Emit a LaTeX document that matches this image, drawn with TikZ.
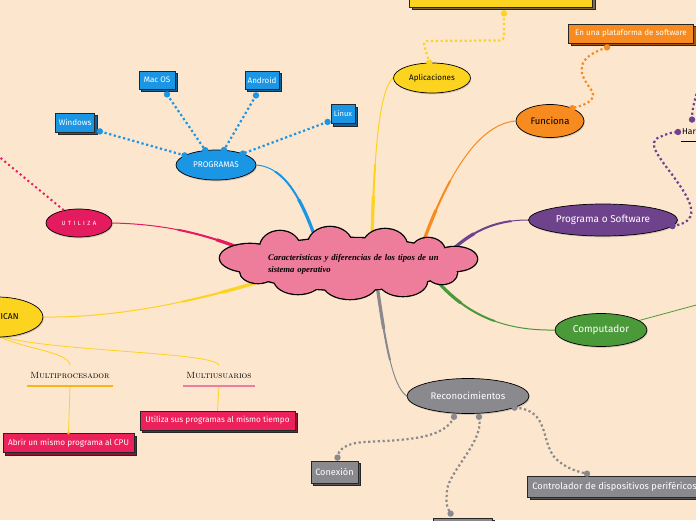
\documentclass[tikz,border=0pt]{standalone}
\usepackage{fontspec}
\newfontfamily\hand{Fira Sans}
\newfontfamily\tms{Liberation Serif}
\usetikzlibrary{shapes.symbols,shapes.geometric,shadows,calc}
\pgfdeclarelayer{back}
\pgfsetlayers{back,main}
\definecolor{bgc}{RGB}{253,230,206}
\definecolor{blueN}{RGB}{27,150,229}
\definecolor{blueD}{RGB}{22,98,150}
\definecolor{yelN}{RGB}{252,211,31}
\definecolor{yelD}{RGB}{125,110,70}
\definecolor{oraN}{RGB}{247,139,31}
\definecolor{oraD}{RGB}{165,88,22}
\definecolor{purN}{RGB}{111,66,140}
\definecolor{grnN}{RGB}{74,154,58}
\definecolor{gryN}{RGB}{138,138,142}
\definecolor{gryD}{RGB}{88,88,92}
\definecolor{crimN}{RGB}{229,27,95}
\definecolor{crimB}{RGB}{236,32,90}
\definecolor{crimD}{RGB}{145,20,55}
\definecolor{pinkC}{RGB}{238,124,155}
\definecolor{mpC}{RGB}{248,180,25}
\definecolor{muC}{RGB}{240,125,160}
\newcommand\mmfs[1]{\fontsize{#1}{#1}\selectfont}
\newcommand\mmtaper[2]{%
  \draw[#1, line width=1pt] #2;
  \begin{scope}\clip (348,263) ellipse (180 and 100); \draw[#1, line width=2pt] #2; \end{scope}
  \begin{scope}\clip (348,263) ellipse (140 and 68); \draw[#1, line width=3.2pt] #2; \end{scope}}
\newcommand\mmdot[2]{\fill[#1] #2 circle (3.2);}
\newcommand\mmpuffs{348/264/105/26, 250/258/30/14, 280/248/20/17, 330/245/22/18, 385/246/22/17,
  428/252/17/14, 455/259/22/12, 442/273/15/11, 403/281/24/15, 350/283/27/16, 298/279/24/15, 258/271/18/12}
\begin{document}
\begin{tikzpicture}[x=1pt,y=-1pt,
  ell/.style={ellipse, draw=black, line width=0.7pt, inner sep=0pt,
    drop shadow={shadow xshift=0.8pt, shadow yshift=-1.3pt, opacity=0.35}},
  sbox/.style 2 args={rectangle, draw=black!85, line width=0.8pt, fill=#1, inner sep=0pt, text=white,
    general shadow={fill=#2, draw=black!85, line width=0.8pt, shadow xshift=2.5pt, shadow yshift=-2.5pt}},
  dotc/.style={line width=2.2pt, dash pattern=on 2.2pt off 2.6pt},
  thinc/.style={line width=0.8pt}]
\useasboundingbox (0,0) rectangle (696,520);

% ---------- central cloud (union of puffs) ----------
\foreach \px/\py/\rx/\ry in \mmpuffs {\draw[black, line width=2.6pt] (\px,\py) ellipse (\rx pt and \ry pt);}
\foreach \px/\py/\rx/\ry in \mmpuffs {\fill[pinkC] (\px,\py) ellipse (\rx pt and \ry pt);}
\node[ellipse, inner sep=0pt, text width=160pt, align=left,
  font=\tms\bfseries\itshape\fontsize{8.7}{12}\selectfont]
  (cloud) at (348,264) {\mbox{Caracteristicas y diferencias de los tipos de un}\\sistema operativo};

% ---------- nodes ----------
\node[ell, fill=blueN, minimum width=80pt, minimum height=30pt, text=white, font=\hand\mmfs{8.2}] (prog) at (216,165) {PROGRAMAS};
\node[sbox={blueN}{blueD}, minimum width=39pt, minimum height=19pt, font=\hand\mmfs{8}] (win) at (75,122.5) {Windows};
\node[sbox={blueN}{blueD}, minimum width=36pt, minimum height=18pt, font=\hand\mmfs{8}] (mac) at (157,80) {Mac OS};
\node[sbox={blueN}{blueD}, minimum width=34pt, minimum height=18pt, font=\hand\mmfs{8}] (andr) at (262,80) {Android};
\node[sbox={blueN}{blueD}, minimum width=24pt, minimum height=19pt, font=\hand\mmfs{7.5}] (lin) at (343,114) {Linux};

\node[ell, fill=yelN, minimum width=77pt, minimum height=30pt, font=\hand\mmfs{8}] (apl) at (432,78) {Aplicaciones};
\node[sbox={yelN}{yelD}, minimum width=183pt, minimum height=30pt] (ybox) at (501,-8) {};

\node[sbox={oraN}{oraD}, minimum width=125pt, minimum height=19pt, font=\hand\mmfs{8}] (orbox) at (631,33.5) {En una plataforma de software};
\node[ell, fill=oraN, minimum width=68pt, minimum height=33pt, font=\hand\mmfs{9.5}] (fun) at (550,121) {Funciona};

\node[ell, fill=purN, minimum width=149pt, minimum height=32pt, text=white, font=\hand\mmfs{10}] (pos) at (603,220) {Programa o Software};
\node[anchor=west, inner sep=1pt, font=\hand\mmfs{8.5}] (hw) at (681,131) {Hardware};

\node[ell, fill=grnN, minimum width=92pt, minimum height=33pt, text=white, font=\hand\mmfs{10}] (comp) at (601,330) {Computador};

\node[ell, fill=gryN, minimum width=122pt, minimum height=35pt, text=white, font=\hand\mmfs{9.6}] (rec) at (468,396) {Reconocimientos};
\node[sbox={gryN}{gryD}, minimum width=47pt, minimum height=22pt, font=\hand\mmfs{9.2}] (conx) at (334.5,472) {Conexión};
\node[sbox={gryN}{gryD}, minimum width=59pt, minimum height=24pt] (lowbox) at (462.5,530) {};
\node[sbox={gryN}{gryD}, anchor=west, minimum height=21pt, inner xsep=5pt, font=\hand\mmfs{9.3}] (ctrl) at (527,486.5) {Controlador de dispositivos periféricos};

\node[ell, fill=crimN, minimum width=66pt, minimum height=28pt, text=white, font=\hand\mmfs{6}\addfontfeature{LetterSpace=40}] (uti) at (79,223) {UTILIZA};
\node[ell, fill=yelN, minimum width=92pt, minimum height=40pt, font=\hand\mmfs{8.5}] (ican) at (-3,317) {CLASIFICAN};

\node[anchor=south, minimum width=82pt, inner ysep=7pt, font=\scshape\mmfs{9}] (mproc) at (70,386) {Multiprocesador};
\node[anchor=south, minimum width=66pt, inner ysep=7pt, font=\scshape\mmfs{9}] (muser) at (219,386) {Multiusuarios};
\node[sbox={crimB}{crimD}, minimum width=131pt, minimum height=19pt, font=\hand\mmfs{8.2}] (abrir) at (68.5,443) {Abrir un mismo programa al CPU};
\node[sbox={crimB}{crimD}, minimum width=155pt, minimum height=19pt, font=\hand\mmfs{8.2}] (util) at (217.5,420.5) {Utiliza sus programas al mismo tiempo};

\coordinate (utiup) at (-3,155);
\coordinate (hwup) at (697,92);
\coordinate (grnout) at (700,304);

% underlines
\draw[mpC, line width=2pt] (mproc.south west) -- (mproc.south east);
\draw[muC, line width=2pt] (muser.south west) -- (muser.south east);
\draw[black, line width=1.5pt] ($(hw.south west)+(0,6)$) -- ($(hw.south east)+(0,6)$);

% ---------- connectors ----------
\begin{pgfonlayer}{back}
\fill[bgc] (0,0) rectangle (696,520);
\mmtaper{blueN}{(prog.east) .. controls (285,167) and (302,200) .. ($(cloud.center)+(-32,-24)$)}
\mmtaper{yelN}{(apl.west) .. controls (380,88) and (374,150) .. ($(cloud.center)+(24,-24)$)}
\mmtaper{oraN}{(fun.west) .. controls (480,124) and (450,170) .. ($(cloud.center)+(76,-24)$)}
\mmtaper{purN}{(pos.west) .. controls (500,220) and (475,228) .. ($(cloud.center)+(102,-12)$)}
\mmtaper{grnN}{(comp.west) .. controls (500,331) and (465,312) .. ($(cloud.center)+(90,18)$)}
\mmtaper{gryN}{(rec.west) .. controls (392,386) and (385,340) .. ($(cloud.center)+(29,21)$)}
\mmtaper{crimN}{(uti.east) .. controls (160,224) and (200,232) .. ($(cloud.center)+(-103,-14)$)}
\mmtaper{yelN}{(ican.east) .. controls (120,318) and (200,300) .. ($(cloud.center)+(-83,16)$)}
\draw[grnN, thinc] (comp.14) -- (grnout);
\draw[yelN, thinc] (ican.-80) .. controls (30,350) and (68,352) .. (mproc.north);
\draw[yelN, thinc] (ican.-72) .. controls (60,352) and (215,352) .. (muser.north);
\draw[yelN, thinc] (mproc.south) -- (abrir.north);
\draw[yelN, thinc] (muser.south) -- (util.north);
\end{pgfonlayer}
\fill[mpC] (abrir.north) circle (1.5);

% blue dotted
\draw[dotc, blueN] ($(win.south east)+(5,-1)$) -- (prog.163);
\draw[dotc, blueN] ($(mac.south)+(10,5)$) -- (prog.126);
\draw[dotc, blueN] ($(andr.south)+(-6,6)$) -- (prog.62);
\draw[dotc, blueN] ($(lin.south west)+(-3,-2)$) -- (prog.23);
\mmdot{blueN}{($(win.south east)+(5,-1)$)} \mmdot{blueN}{(prog.163)}
\mmdot{blueN}{($(mac.south)+(10,5)$)} \mmdot{blueN}{(prog.126)}
\mmdot{blueN}{($(andr.south)+(-6,6)$)} \mmdot{blueN}{(prog.62)}
\mmdot{blueN}{($(lin.south west)+(-3,-2)$)} \mmdot{blueN}{(prog.23)}

% yellow dotted
\draw[dotc, yelN, rounded corners=4pt] ($(ybox.south)+(3,6)$) -- ++(0,27) -- (423,41) -- (apl.100);
\mmdot{yelN}{($(ybox.south)+(3,6)$)} \mmdot{yelN}{(apl.100)}

% orange dotted
\draw[dotc, oraN] ($(orbox.south)+(-24,4)$) .. controls (575,58) and (578,72) .. (590,88)
   .. controls (598,98) and (590,104) .. (fun.30);
\mmdot{oraN}{($(orbox.south)+(-24,4)$)} \mmdot{oraN}{(fun.30)}

% purple dotted
\draw[dotc, purN] (pos.-5) .. controls (700,222) and (694,205) .. (676,180)
   .. controls (660,158) and (645,142) .. (660,137) .. controls (666,134) and (672,132) .. ($(hw.west)+(-3,1)$);
\mmdot{purN}{(pos.-5)} \mmdot{purN}{($(hw.west)+(-3,1)$)}
\draw[dotc, purN] ($(hw.north west)+(11,-7)$) .. controls (692,108) and (695,100) .. (hwup);
\mmdot{purN}{($(hw.north west)+(11,-7)$)}

% gray dotted
\draw[dotc, gryN] ($(rec.south)+(-14,3)$) .. controls (445,440) and (400,440) .. (365,442)
   .. controls (345,443) and (338,450) .. ($(conx.north)+(3,-3)$);
\draw[dotc, gryN] ($(rec.south)+(11,3)$) .. controls (485,440) and (450,470) .. (447,490)
   .. controls (446,505) .. ($(lowbox.north west)+(18,-4)$);
\draw[dotc, gryN] (rec.-14) .. controls (550,410) and (540,440) .. (555,458)
   .. controls (565,468) and (578,472) .. ($(ctrl.north west)+(60,-2)$);
\mmdot{gryN}{($(rec.south)+(-14,3)$)} \mmdot{gryN}{($(conx.north)+(3,-3)$)}
\mmdot{gryN}{($(rec.south)+(11,3)$)} \mmdot{gryN}{($(lowbox.north west)+(18,-4)$)}
\mmdot{gryN}{(rec.-14)} \mmdot{gryN}{($(ctrl.north west)+(60,-2)$)}

% red dotted
\draw[crimN, line width=2pt, dash pattern=on 2pt off 3pt] (uti.140) -- (utiup);
\end{tikzpicture}
\end{document}
